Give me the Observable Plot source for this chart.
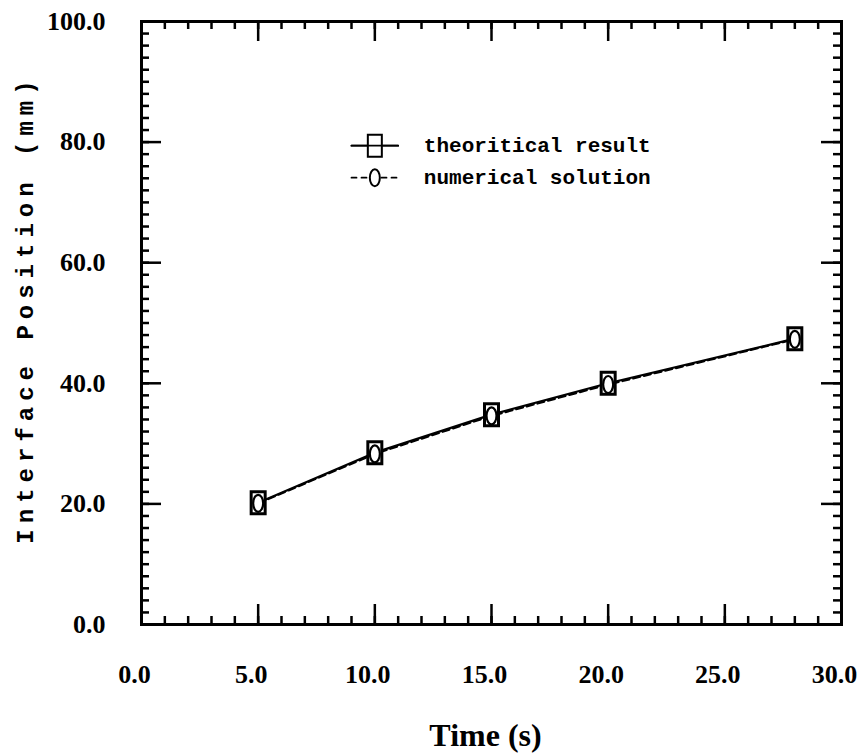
<!DOCTYPE html>
<html><head><meta charset="utf-8">
<script src="https://cdn.jsdelivr.net/npm/d3@7"></script>
<script src="https://cdn.jsdelivr.net/npm/@observablehq/plot@0.6"></script>
<style>
body{margin:0;background:#fff}
#chart svg{display:block;background:#fff}
#chart text[transform*="rotate"]{letter-spacing:6px}
</style></head><body><div id="chart"></div>
<script>
// ---- data ----
const time = [5, 10, 15, 20, 28];
const theoretical = [20.2, 28.5, 34.8, 40.0, 47.4];
const numerical = [20.1, 28.3, 34.6, 39.8, 47.3];
const seriesNames = ["theoritical result", "numerical solution"];
const xTickValues = [0, 5, 10, 15, 20, 25, 30];
const yTickValues = [0, 20, 40, 60, 80, 100];
const xLabel = "Time (s)";
const yLabel = "Interface Position (mm)";
// legend placement (data units) inside the frame
const legendX = [9.0, 10.0, 11.0, 12.1];
const legendY = [79.4, 74.1];

// ---- layout ----
const W = 862, H = 756, mL = 141, mR = 21, mT = 21, mB = 132;
const fw = W - mL - mR, fh = H - mT - mB;
const xMinor = d3.range(0, 31, 1);
const yMinor = d3.range(0, 101, 2);

const theoryData = time.map((t, i) => ({t, v: theoretical[i]}));
const numData = time.map((t, i) => ({t, v: numerical[i]}));

const rectSym = {draw(c) { c.rect(-7, -11, 14, 22); }};
const ellSym = {draw(c) {
  const rx = 5, ry = 8.5, k = 0.5523;
  c.moveTo(rx, 0);
  c.bezierCurveTo(rx, ry * k, rx * k, ry, 0, ry);
  c.bezierCurveTo(-rx * k, ry, -rx, ry * k, -rx, 0);
  c.bezierCurveTo(-rx, -ry * k, -rx * k, -ry, 0, -ry);
  c.bezierCurveTo(rx * k, -ry, rx, -ry * k, rx, 0);
  c.closePath();
}};

const serif = "Liberation Serif";
const mono = "Liberation Mono";

const legendLine1 = [{x: legendX[0], y: legendY[0]}, {x: legendX[2], y: legendY[0]}];
const legendLine2 = [{x: legendX[0], y: legendY[1]}, {x: legendX[2], y: legendY[1]}];

const chart = Plot.plot({
  width: W, height: H,
  marginLeft: mL, marginRight: mR, marginTop: mT, marginBottom: mB,
  style: {fontFamily: serif, background: "#fff"},
  x: {domain: [0, 30], axis: null},
  y: {domain: [0, 100], axis: null},
  marks: [
    // ticks (inward, all four sides)
    Plot.ruleX(xTickValues, {x: d => d, insetTop: fh - 20, strokeWidth: 2.5}),
    Plot.ruleX(xTickValues, {x: d => d, insetBottom: fh - 20, strokeWidth: 2.5}),
    Plot.ruleX(xMinor, {x: d => d, insetTop: fh - 8, strokeWidth: 2.5}),
    Plot.ruleX(xMinor, {x: d => d, insetBottom: fh - 8, strokeWidth: 2.5}),
    Plot.ruleY(yTickValues, {y: d => d, insetRight: fw - 20, strokeWidth: 2.5}),
    Plot.ruleY(yTickValues, {y: d => d, insetLeft: fw - 20, strokeWidth: 2.5}),
    Plot.ruleY(yMinor, {y: d => d, insetRight: fw - 8, strokeWidth: 2.5}),
    Plot.ruleY(yMinor, {y: d => d, insetLeft: fw - 8, strokeWidth: 2.5}),
    Plot.frame({strokeWidth: 3}),
    // tick labels
    Plot.axisX(xTickValues, {anchor: "bottom", tickSize: 0, tickPadding: 40, dx: -7,
      tickFormat: d => d.toFixed(1), fontSize: 26, fontWeight: "bold", fontFamily: serif, label: null}),
    Plot.axisY(yTickValues, {anchor: "left", tickSize: 0, tickPadding: 36,
      tickFormat: d => d.toFixed(1), fontSize: 26, fontWeight: "bold", fontFamily: serif, label: null}),
    // axis titles
    Plot.text([xLabel], {frameAnchor: "bottom", dy: 111, dx: -6, fontSize: 32, fontWeight: "bold",
      fontFamily: serif, lineAnchor: "middle", textAnchor: "middle"}),
    Plot.text([yLabel], {frameAnchor: "left", rotate: -90, dx: -116, dy: -14, fontSize: 24,
      fontWeight: "bold", fontFamily: mono, lineAnchor: "middle", textAnchor: "middle"}),
    // data
    Plot.line(theoryData, {x: "t", y: "v", strokeWidth: 2.2}),
    Plot.line(numData, {x: "t", y: "v", strokeWidth: 2.2, strokeDasharray: "7,4"}),
    Plot.dot(theoryData, {x: "t", y: "v", symbol: rectSym, stroke: "black", strokeWidth: 3, fill: "white"}),
    Plot.dot(numData, {x: "t", y: "v", symbol: ellSym, stroke: "black", strokeWidth: 2.2}),
    // legend
    Plot.line(legendLine1, {x: "x", y: "y", strokeWidth: 1.8}),
    Plot.line(legendLine2, {x: "x", y: "y", strokeWidth: 1.8, strokeDasharray: "5,5"}),
    Plot.dot([{x: legendX[1], y: legendY[0]}], {x: "x", y: "y", symbol: rectSym, stroke: "black", strokeWidth: 2, fill: "white"}),
    Plot.line(legendLine1, {x: "x", y: "y", strokeWidth: 1.8}),
    Plot.dot([{x: legendX[1], y: legendY[1]}], {x: "x", y: "y", symbol: ellSym, stroke: "black", strokeWidth: 2, fill: "white"}),
    Plot.text([{x: legendX[3], y: legendY[0], name: seriesNames[0]}, {x: legendX[3], y: legendY[1], name: seriesNames[1]}],
      {x: "x", y: "y", text: "name", textAnchor: "start", fontSize: 21, fontWeight: "bold", fontFamily: mono, lineAnchor: "middle"})
  ]
});
document.getElementById("chart").appendChild(chart);
</script></body></html>
